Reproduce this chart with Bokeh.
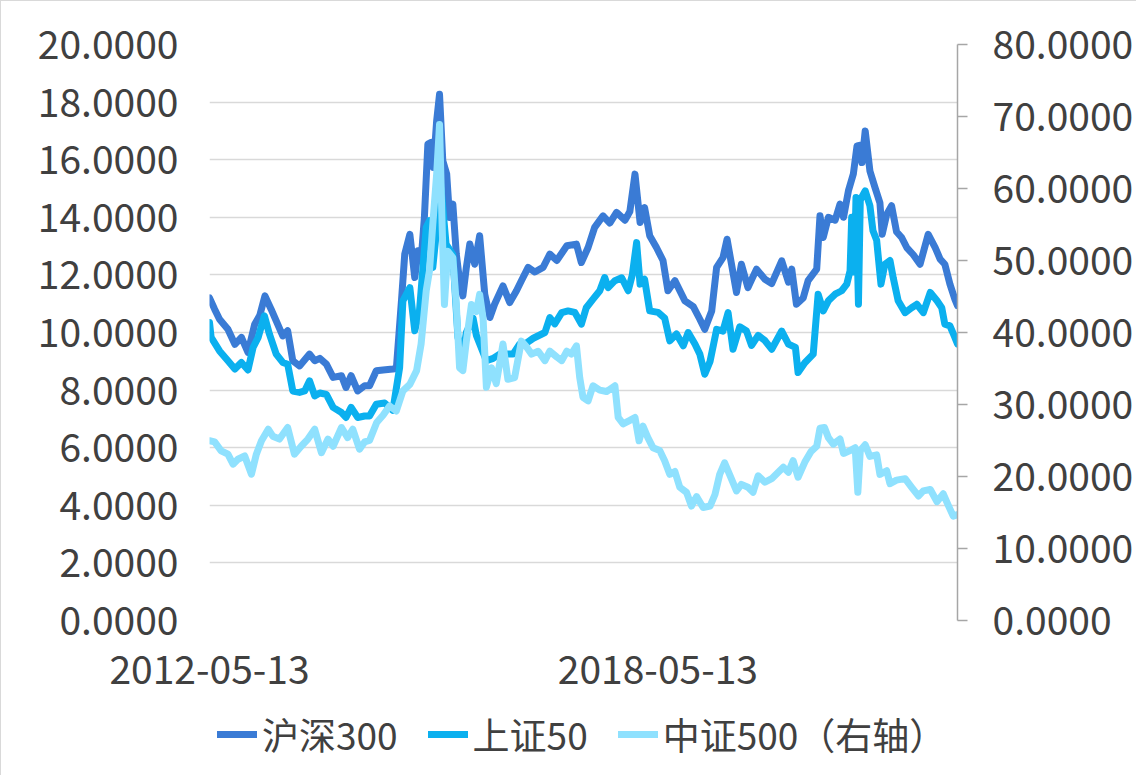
import pandas as pd
from bokeh.plotting import figure
from bokeh.layouts import column
from bokeh.models import (Range1d, LinearAxis, FixedTicker, NumeralTickFormatter,
                          DatetimeTickFormatter, Legend, LegendItem)
from bokeh.embed import file_html
from bokeh.resources import INLINE

# ---------------- data ----------------
hs300_dates = [
    "2012-05-13","2012-06-07","2012-07-01","2012-08-11","2012-09-14","2012-10-16","2012-11-17","2012-12-20",
    "2013-01-14","2013-02-08","2013-03-10","2013-04-04","2013-05-06","2013-05-30","2013-06-24","2013-07-27",
    "2013-09-14","2013-10-09","2013-11-03","2013-12-05","2014-01-07","2014-02-17","2014-03-11","2014-04-05",
    "2014-05-07","2014-06-10","2014-07-04","2014-08-06","2014-09-08","2014-10-26","2014-11-12","2014-12-07",
    "2014-12-23","2015-01-17","2015-02-10","2015-02-26","2015-03-13","2015-03-29","2015-04-15","2015-05-01",
    "2015-05-12","2015-05-28","2015-06-11","2015-06-27","2015-07-16","2015-07-30","2015-08-15","2015-09-01",
    "2015-09-17","2015-10-03","2015-10-20","2015-11-06","2015-11-30","2015-12-24","2016-01-18","2016-02-12",
    "2016-03-06","2016-04-16","2016-05-19","2016-06-21","2016-07-15","2016-08-17","2016-09-19","2016-10-29",
    "2016-12-01","2017-01-04","2017-02-22","2017-04-10","2017-05-04","2017-06-06","2017-07-08","2017-08-18",
    "2017-09-20","2017-10-23","2017-12-03","2017-12-27","2018-01-21","2018-02-15","2018-03-09","2018-04-03",
    "2018-05-06","2018-06-07","2018-07-01","2018-08-04","2018-09-22","2018-11-02","2018-12-04","2018-12-28",
    "2019-01-31","2019-02-24","2019-03-27","2019-04-16","2019-05-07","2019-06-01","2019-06-25","2019-07-27",
    "2019-09-07","2019-10-18","2019-11-20","2020-01-08","2020-02-10","2020-02-26","2020-03-20","2020-04-22",
    "2020-05-16","2020-06-27","2020-07-13","2020-07-29","2020-08-23","2020-09-25","2020-10-19","2020-11-05",
    "2020-11-29","2020-12-23","2021-01-10","2021-01-26","2021-02-03","2021-02-19","2021-03-14","2021-04-08",
    "2021-05-02","2021-05-13","2021-06-04","2021-06-28","2021-07-22","2021-08-16","2021-09-10","2021-10-12",
    "2021-11-14","2021-12-24","2022-01-27","2022-02-20","2022-03-15","2022-04-09","2022-05-03","2022-05-16"]
hs300_values = [
    11.2, 10.81, 10.46, 10.11, 9.59, 9.83, 9.31, 10.29,
    10.6, 11.27, 10.81, 10.4, 9.88, 10.06, 9.02, 8.84,
    9.25, 9.02, 9.1, 8.9, 8.44, 8.5, 8.09, 8.5,
    7.97, 8.15, 8.15, 8.67, 8.7, 8.73, 8.75, 11.1,
    12.72, 13.41, 11.91, 12.84, 12.5, 13.99, 16.54, 16.6,
    15.73, 17.35, 18.27, 15.96, 15.5, 13.99, 14.46, 12.72,
    11.8, 11.27, 12.26, 13.07, 12.37, 13.36, 11.33, 10.52,
    10.98, 11.62, 11.04, 11.45, 11.8, 12.26, 12.1, 12.26,
    12.72, 12.5, 13.01, 13.07, 12.43, 12.95, 13.65, 14.05,
    13.8, 14.17, 13.9, 14.2, 15.5, 13.82, 14.34, 13.36,
    12.95, 12.5, 11.45, 11.8, 11.1, 10.9, 10.46, 10.11,
    10.75, 12.26, 12.6, 13.24, 12.4, 11.39, 12.37, 11.56,
    12.2, 11.85, 11.7, 12.49, 11.75, 12.2, 10.98, 11.2,
    11.8, 12.2, 14.05, 13.3, 14.0, 13.9, 14.46, 14.0,
    14.92, 15.5, 16.48, 16.5, 15.9, 17.0, 15.61, 15.03,
    14.5, 13.41, 14.1, 14.4, 13.5, 13.3, 12.95, 12.7,
    12.37, 13.41, 12.95, 12.55, 12.37, 11.68, 11.16, 10.93]

sz50_dates = [
    "2012-05-13","2012-05-21","2012-07-01","2012-08-11","2012-09-14","2012-10-16","2012-11-17","2012-12-12",
    "2013-01-06","2013-02-05","2013-03-02","2013-04-04","2013-05-06","2013-05-30","2013-06-24","2013-07-27",
    "2013-08-21","2013-09-14","2013-10-09","2013-11-03","2013-12-05","2014-01-07","2014-02-17","2014-03-11",
    "2014-04-05","2014-05-07","2014-06-10","2014-07-04","2014-08-06","2014-09-16","2014-10-26","2014-11-28",
    "2014-12-14","2015-01-17","2015-02-10","2015-03-05","2015-04-07","2015-04-23","2015-05-09","2015-06-03",
    "2015-06-16","2015-07-13","2015-08-15","2015-09-09","2015-10-03","2015-10-20","2015-11-22","2015-12-08",
    "2016-01-26","2016-02-28","2016-03-31","2016-06-04","2016-07-07","2016-08-01","2016-09-11","2016-11-07",
    "2016-12-01","2016-12-25","2017-01-28","2017-02-28","2017-04-02","2017-05-04","2017-05-28","2017-06-30",
    "2017-08-02","2017-08-26","2017-09-12","2017-10-15","2017-11-17","2017-12-19","2018-01-08","2018-01-29",
    "2018-02-15","2018-03-09","2018-04-03","2018-05-14","2018-06-15","2018-07-10","2018-08-12","2018-09-14",
    "2018-10-08","2018-11-10","2018-12-04","2018-12-28","2019-01-23","2019-02-24","2019-03-27","2019-04-21",
    "2019-05-15","2019-06-17","2019-07-20","2019-08-14","2019-09-15","2019-10-18","2019-11-20","2020-01-08",
    "2020-02-10","2020-03-15","2020-03-28","2020-04-30","2020-06-10","2020-07-04","2020-07-29","2020-08-23",
    "2020-09-25","2020-10-27","2020-11-21","2020-12-07","2020-12-15","2020-12-28","2021-01-05","2021-01-17",
    "2021-01-26","2021-02-19","2021-03-14","2021-03-29","2021-04-16","2021-05-07","2021-05-26","2021-06-20",
    "2021-07-06","2021-07-30","2021-09-02","2021-10-04","2021-10-29","2021-11-30","2022-01-03","2022-02-05",
    "2022-02-28","2022-03-15","2022-04-09","2022-04-30","2022-05-16"]
sz50_values = [
    10.35, 9.83, 9.36, 9.02, 8.73, 8.96, 8.7, 9.48,
    9.83, 10.58, 9.94, 9.25, 8.96, 8.9, 7.97, 7.92,
    7.97, 8.32, 7.8, 7.9, 7.85, 7.4, 7.22, 7.05,
    7.4, 7.05, 7.1, 7.1, 7.51, 7.55, 7.3, 8.78,
    11.1, 11.56, 10.06, 10.75, 13.65, 13.88, 12.26, 14.0,
    15.2, 13.07, 12.7, 9.83, 9.25, 10.0, 10.5, 9.9,
    9.02, 9.1, 9.25, 9.25, 9.6, 9.6, 9.8, 10.0,
    10.52, 10.3, 10.69, 10.75, 10.7, 10.29, 10.86, 11.16,
    11.45, 11.91, 11.56, 11.8, 11.9, 11.45, 12.0, 13.12,
    11.68, 11.85, 10.75, 10.7, 10.5, 9.71, 9.95, 9.54,
    10.0, 9.6, 9.25, 8.55, 9.0, 10.11, 10.05, 10.69,
    9.42, 10.2, 10.05, 9.55, 9.9, 9.72, 9.42, 10.05,
    9.6, 9.48, 8.61, 8.95, 9.25, 11.33, 10.75, 11.1,
    11.33, 11.45, 11.68, 12.14, 14.0, 12.1, 14.69, 10.98,
    14.6, 14.92, 14.4, 13.53, 13.2, 11.68, 12.37, 12.5,
    11.9, 11.1, 10.69, 10.86, 10.98, 10.69, 11.39, 11.1,
    10.86, 10.29, 10.23, 9.88, 9.6]

zz500_dates = [
    "2012-05-13","2012-06-07","2012-07-09","2012-08-11","2012-09-05","2012-09-29","2012-11-01","2012-12-04",
    "2012-12-28","2013-01-22","2013-02-24","2013-03-18","2013-04-20","2013-05-30","2013-07-02","2013-08-04",
    "2013-09-06","2013-10-09","2013-11-11","2013-12-13","2014-01-07","2014-02-17","2014-03-19","2014-04-13",
    "2014-05-16","2014-06-10","2014-07-04","2014-08-08","2014-09-08","2014-10-10","2014-11-12","2014-12-14",
    "2015-01-17","2015-02-19","2015-03-13","2015-04-07","2015-04-23","2015-05-09","2015-05-28","2015-06-11",
    "2015-06-24","2015-07-05","2015-07-21","2015-08-15","2015-09-01","2015-09-17","2015-10-03","2015-10-20",
    "2015-11-14","2015-12-08","2015-12-24","2016-01-10","2016-01-26","2016-02-20","2016-03-14","2016-04-16",
    "2016-05-10","2016-06-12","2016-07-15","2016-08-09","2016-09-03","2016-10-05","2016-11-07","2016-12-01",
    "2017-01-04","2017-01-28","2017-02-22","2017-03-16","2017-04-10","2017-04-26","2017-05-12","2017-06-06",
    "2017-06-30","2017-08-02","2017-09-04","2017-10-15","2017-10-31","2017-11-24","2017-12-27","2018-01-21",
    "2018-02-10","2018-03-01","2018-03-25","2018-04-19","2018-05-22","2018-06-15","2018-07-10","2018-08-04",
    "2018-08-28","2018-09-30","2018-10-24","2018-11-18","2018-12-20","2019-01-23","2019-02-16","2019-03-11",
    "2019-04-04","2019-04-28","2019-06-01","2019-06-25","2019-07-27","2019-08-21","2019-09-15","2019-10-18",
    "2019-11-20","2019-12-22","2020-01-16","2020-02-10","2020-03-04","2020-03-28","2020-04-30","2020-05-31",
    "2020-06-27","2020-07-13","2020-08-04","2020-08-23","2020-09-16","2020-10-19","2020-11-05","2020-12-07",
    "2021-01-01","2021-01-14","2021-01-26","2021-02-19","2021-03-14","2021-04-16","2021-05-02","2021-06-04",
    "2021-06-20","2021-07-22","2021-09-02","2021-10-04","2021-11-06","2021-11-30","2022-01-03","2022-02-05",
    "2022-03-07","2022-04-01","2022-04-25","2022-05-16"]
zz500_values = [
    24.96, 24.8, 23.57, 23.1, 21.71, 22.4, 22.85, 20.32,
    23.1, 24.96, 26.57, 25.6, 25.2, 26.8, 23.1, 24.2,
    25.2, 26.57, 23.3, 25.2, 24.2, 26.8, 25.4, 26.57,
    23.8, 24.8, 25.0, 27.5, 28.5, 29.8, 29.1, 31.9,
    32.8, 34.7, 38.4, 45.8, 48.6, 55.0, 62.0, 68.9,
    54.6, 43.9, 51.3, 50.4, 43.9, 35.1, 34.7, 38.8,
    43.9, 42.9, 45.3, 41.9, 32.4, 35.1, 32.9, 38.4,
    33.5, 33.75, 38.8, 38.0, 37.0, 37.4, 36.1, 37.4,
    36.6, 36.1, 37.4, 37.0, 38.15, 33.75, 31.0, 30.5,
    32.6, 32.0, 31.8, 32.6, 28.2, 27.3, 27.8, 28.2,
    24.96, 27.0, 25.4, 24.0, 23.6, 22.2, 20.3, 20.7,
    18.5, 17.8, 15.9, 17.2, 15.7, 15.9, 17.5, 20.3,
    21.9, 20.3, 18.0, 18.9, 18.5, 17.8, 20.1, 19.2,
    19.7, 20.6, 21.3, 20.6, 22.2, 19.9, 22.0, 23.5,
    24.2, 26.7, 26.8, 25.4, 24.5, 25.2, 23.2, 23.6,
    24.0, 17.8, 23.6, 24.4, 22.8, 23.0, 20.3, 20.8,
    19.0, 19.5, 19.7, 18.5, 17.3, 18.0, 18.2, 16.5,
    17.6, 16.0, 14.5, 14.7]

series_names = ["沪深300", "上证50", "中证500（右轴）"]
series_colors = ["#3A7BD5", "#0BB0EF", "#8FE1FE"]
x_tick_dates = ["2012-05-13", "2018-05-13"]
left_ticks = [0, 2, 4, 6, 8, 10, 12, 14, 16, 18, 20]
right_ticks = [0, 10, 20, 30, 40, 50, 60, 70, 80]

# ---------------- figure ----------------
FONT = "Noto Sans CJK SC"
TXT = "#404040"
LW = 7
TICK_FS = "39px"

p = figure(frame_width=748, frame_height=576, output_backend="svg", toolbar_location=None,
           x_axis_type="datetime",
           x_range=Range1d(pd.Timestamp("2012-05-13"), pd.Timestamp(hs300_dates[-1])),
           y_range=Range1d(0, 20),
           min_border_left=208, min_border_right=150, min_border_top=43, min_border_bottom=0)
p.extra_y_ranges = {"right": Range1d(0, 80)}
p.outline_line_color = None
p.background_fill_color = "white"
p.border_fill_color = "white"

p.line(pd.to_datetime(hs300_dates), hs300_values, line_color=series_colors[0],
       line_width=LW, line_join="round", line_cap="round")
p.line(pd.to_datetime(sz50_dates), sz50_values, line_color=series_colors[1],
       line_width=LW, line_join="round", line_cap="round")
p.line(pd.to_datetime(zz500_dates), zz500_values, line_color=series_colors[2],
       line_width=LW, line_join="round", line_cap="round", y_range_name="right")

# x axis
xa = p.xaxis[0]
xa.ticker = FixedTicker(ticks=[pd.Timestamp(d).value // 10**6 for d in x_tick_dates])
fmt = "%Y-%m-%d"
xa.formatter = DatetimeTickFormatter(milliseconds=fmt, seconds=fmt, minsec=fmt, minutes=fmt,
                                     hourmin=fmt, hours=fmt, days=fmt, months=fmt, years=fmt)
xa.axis_line_color = None
xa.major_tick_line_color = None
xa.major_tick_out = 0
xa.major_tick_in = 0
xa.minor_tick_line_color = None
xa.major_label_standoff = 34
xa.major_label_text_font = FONT
xa.major_label_text_font_size = TICK_FS
xa.major_label_text_color = TXT

# left axis
ya = p.yaxis[0]
ya.ticker = FixedTicker(ticks=left_ticks)
ya.formatter = NumeralTickFormatter(format="0.0000")
ya.axis_line_color = None
ya.major_tick_line_color = None
ya.major_tick_out = 0
ya.major_tick_in = 0
ya.minor_tick_line_color = None
ya.major_label_standoff = 31
ya.major_label_text_font = FONT
ya.major_label_text_font_size = TICK_FS
ya.major_label_text_color = TXT

# right axis
ra = LinearAxis(y_range_name="right", ticker=FixedTicker(ticks=right_ticks),
                formatter=NumeralTickFormatter(format="0.0000"))
ra.axis_line_color = "#a6a6a6"
ra.axis_line_width = 1.5
ra.major_tick_line_color = "#a6a6a6"
ra.major_tick_line_width = 1.5
ra.major_tick_out = 10
ra.major_tick_in = 0
ra.minor_tick_line_color = None
ra.major_label_standoff = 25
ra.major_label_text_font = FONT
ra.major_label_text_font_size = TICK_FS
ra.major_label_text_color = TXT
p.add_layout(ra, "right")

p.xgrid.visible = False
p.ygrid.ticker = FixedTicker(ticks=left_ticks)
p.ygrid.grid_line_color = "#d9d9d9"
p.ygrid.grid_line_width = 1.5

# ---------------- legend strip (own small figure under the chart) ----------------
lf = figure(width=1130, height=90, output_backend="svg", toolbar_location=None,
            x_range=Range1d(0, 1), y_range=Range1d(0, 1),
            x_axis_location=None, y_axis_location=None,
            min_border_left=0, min_border_right=0, min_border_top=0, min_border_bottom=0)
lf.outline_line_color = None
lf.grid.visible = False
lf.background_fill_color = "white"
lf.border_fill_color = "white"
keys = [lf.line([float("nan")], [float("nan")], line_color=c, line_width=LW, line_cap="round")
        for c in series_colors]

legend = Legend(items=[LegendItem(label=n, renderers=[k]) for n, k in zip(series_names, keys)],
                orientation="horizontal", location=(8, 15),
                glyph_width=40, glyph_height=20, label_standoff=5, spacing=30,
                padding=0, margin=0,
                label_text_font=FONT, label_text_font_size="37px", label_text_color=TXT,
                border_line_color=None, background_fill_alpha=0)
lf.add_layout(legend, "center")

layout = column(p, lf, spacing=0,
                styles={"border-left": "1px solid #d9d9d9", "border-top": "1px solid #d9d9d9"})

open("out.html", "w").write(file_html(layout, INLINE))
